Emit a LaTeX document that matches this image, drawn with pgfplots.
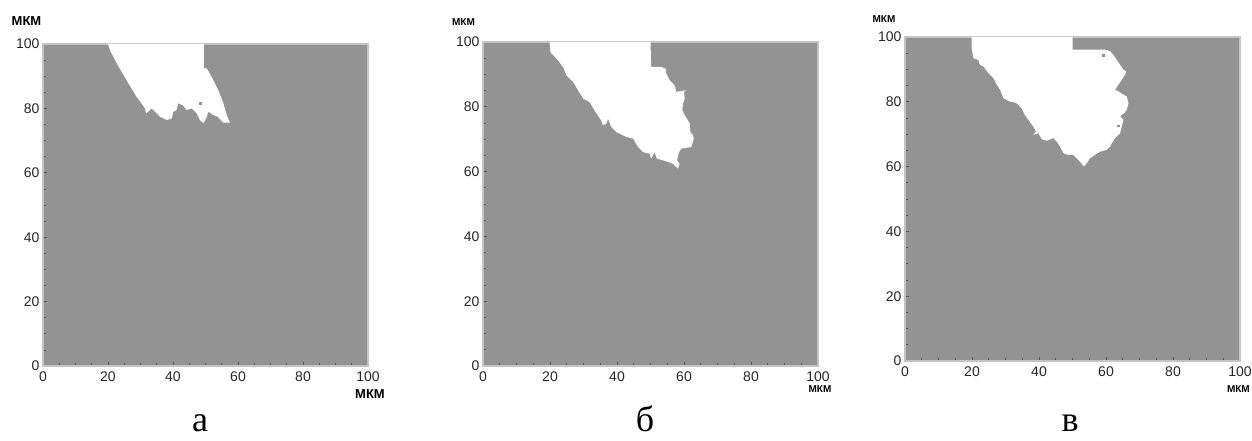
\documentclass[border=0pt]{standalone}
\usepackage{fontspec}
\setmainfont{Liberation Serif}
\newfontfamily\sans{Liberation Sans}
\usepackage{pgfplots}
\pgfplotsset{compat=1.18}
\definecolor{fillgray}{RGB}{147,147,147}
\definecolor{framegray}{RGB}{196,196,196}

\pgfplotsset{
  panel/.style={
    scale only axis, anchor=south west,
    xmin=0, xmax=100, ymin=0, ymax=100,
    xtick={0,20,...,100}, ytick={0,20,...,100},
    minor tick num=3,
    tick pos=left, tick align=inside,
    major tick length=4pt, minor tick length=3pt,
    every tick/.style={color=gray!70!black, line width=0.6pt},
    axis line style={framegray, line width=1.5pt},
    axis background/.style={fill=fillgray},
    /pgf/number format/assume math mode=true,
    ticklabel style={font=\sans\fontsize{14}{14}\selectfont, text=black!85},
    xticklabel style={yshift=-2pt},
    clip=false,
  },
  hole/.style={fill=white, draw=none},
  speck/.style={only marks, mark=square*, mark size=0.9pt, color=fillgray},
}

\begin{document}
\begin{tikzpicture}
\useasboundingbox (0,0) rectangle (1252pt,441pt);

% ---- panel a ----
\begin{axis}[panel, at={(43pt,75pt)}, width=325pt, height=322pt]
\addplot[hole] coordinates {
  (20,100) (20.6,98.1) (22.7,94) (25.7,88.8) (28.8,83.6) (31.4,80)
  (31.7,78.5) (32.4,79) (33.4,80) (34.5,79) (36,77.4) (38.1,76.4)
  (39.6,76.9) (40.1,79) (41.1,79.5) (41.6,81.6) (43,81) (44.2,79.5)
  (45.8,80) (47.3,78.5) (48.3,76.4) (49.3,75.4) (50.2,76.9) (50.9,79)
  (52.3,78) (53.8,77.4) (55.4,75.6) (57.5,75.6) (56.5,78) (55.5,81.6)
  (53.9,85.7) (52.4,88.8) (50.4,92.4) (49.5,92.4) (49.5,100)
};
\addplot[speck] coordinates {(48.3,81.6)};
\end{axis}
\node[font=\sans\bfseries\fontsize{13}{13}\selectfont] at (26.5pt,420pt) {МКМ};
\node[font=\sans\bfseries\fontsize{13}{13}\selectfont] at (370pt,47pt) {МКМ};
\node[font=\fontsize{36}{36}\selectfont, anchor=base, inner sep=0pt] at (200pt,9pt) {а};

% ---- panel b ----
\begin{axis}[panel, at={(483pt,75pt)}, width=335pt, height=324pt]
\addplot[hole] coordinates {
  (19.9,100) (20.1,96.9) (21.9,94.9) (23.9,92.3) (24.9,89.7) (26.9,87.7)
  (28.4,85.1) (29.9,82.5) (31.8,81.5) (33.3,78.9) (35.3,75.8) (35.8,74.3)
  (36.8,74.8) (37.3,76.3) (38.3,73.8) (39.8,72.2) (40.8,71.7) (42.8,70.7)
  (44.8,70.2) (46.3,67.6) (47.8,66) (49.8,65.5) (50.2,64) (51.2,66)
  (51.9,64) (53.7,63.5) (55.2,63) (56.7,62.4) (57.7,61.4) (58.2,60.9)
  (58.7,62.4) (57.9,63.5) (58.5,66) (59.2,67.1) (62.2,67.6) (62.9,70.2)
  (62.7,71.2) (61.9,72.2) (61.7,74.8) (61.2,75.8) (60.2,77.4) (59.5,78.9)
  (59.7,81) (60.2,82.5) (60,84.6) (60.7,85.1) (57.7,84.6) (57.2,86.6)
  (55.7,88.2) (54.7,90.2) (54.5,91.8) (53.2,92.3) (50.2,92.3) (50,100)
};
\end{axis}
\node[font=\sans\bfseries\fontsize{10}{10}\selectfont] at (463.5pt,419pt) {МКМ};
\node[font=\sans\bfseries\fontsize{10}{10}\selectfont] at (820pt,52pt) {МКМ};
\node[font=\fontsize{36}{36}\selectfont, anchor=base, inner sep=0pt] at (645pt,9pt) {б};

% ---- panel c ----
\begin{axis}[panel, at={(905pt,80pt)}, width=335pt, height=324pt]
\addplot[hole] coordinates {
  (19.9,100) (19.9,96.6) (20.4,93.5) (21.9,92.9) (22.4,91.4) (23.4,90.9)
  (24.9,88.9) (26.4,87.3) (27.4,85.3) (28.4,83.7) (29.4,81.1) (31.3,80.1)
  (33.3,79.6) (34.8,78) (35.8,75.9) (37.3,73.8) (38.3,72.4) (39.1,70.8)
  (38.3,69.8) (39.8,70.3) (40.8,68.5) (42.3,68) (44.3,68.8) (45.3,67.7)
  (46.3,66.2) (47.3,64.1) (48.8,63.6) (50.2,63.6) (51.2,62.6) (52.7,61)
  (53.4,60) (54.2,61) (55.2,62.6) (56.7,63.6) (58.2,64.6) (60.2,65.2)
  (61.2,66.2) (61.7,67.2) (62.7,68.8) (64.2,70.3) (64.7,72.4) (65.2,74.4)
  (64.2,75.5) (65.4,76.5) (66.2,77.5) (66.7,79.6) (66.2,81.6) (65.2,82.2)
  (63.7,83.2) (62.7,83.7) (63.7,85.3) (64.7,86.8) (65.7,88.4) (66,89.4)
  (65.2,89.9) (64.2,91.4) (63.2,92.9) (62.2,94.5) (61.2,95.6) (59.7,96.1)
  (50,96.1) (50,100)
};
\addplot[speck] coordinates {(63.7,72.6) (59.2,94.5)};
\end{axis}
\node[font=\sans\bfseries\fontsize{10}{10}\selectfont] at (884pt,422pt) {МКМ};
\node[font=\sans\bfseries\fontsize{10}{10}\selectfont, anchor=east, inner sep=1pt] at (1251pt,52pt) {МКМ};
\node[font=\fontsize{36}{36}\selectfont, anchor=base, inner sep=0pt] at (1070pt,9pt) {в};
\end{tikzpicture}
\end{document}
